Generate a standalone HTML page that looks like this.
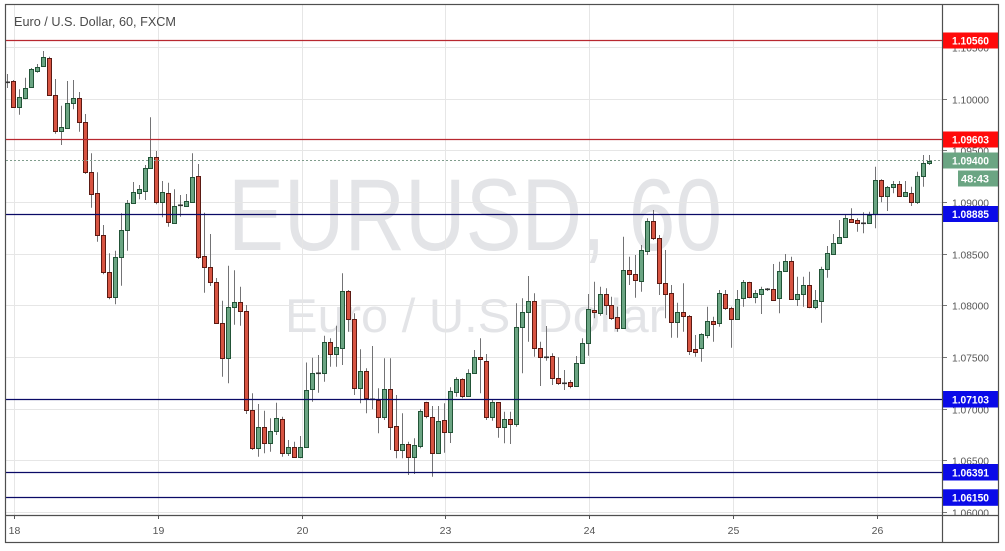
<!DOCTYPE html>
<html>
<head>
<meta charset="utf-8">
<style>
html,body{margin:0;padding:0;background:#fff;}
svg{display:block;}
text{font-family:"Liberation Sans",Arial,sans-serif;}
</style>
</head>
<body>
<svg id="c" width="1005" height="551" viewBox="0 0 1005 551" xmlns="http://www.w3.org/2000/svg">
<defs>
<clipPath id="ax"><rect x="943" y="5" width="55" height="510"/></clipPath>
</defs>
<rect x="0" y="0" width="1005" height="551" fill="#fff"/>
<!-- watermark -->
<text x="228" y="250" font-size="102" fill="#e3e4e7" textLength="494" lengthAdjust="spacingAndGlyphs">EURUSD, 60</text>
<text x="285" y="332" font-size="47" fill="#e3e4e7" textLength="380" lengthAdjust="spacingAndGlyphs">Euro / U.S. Dollar</text>
<!-- grid -->
<g stroke="#e6e6e6" stroke-width="1">
<line x1="6" y1="47.5" x2="942" y2="47.5"/>
<line x1="6" y1="99.5" x2="942" y2="99.5"/>
<line x1="6" y1="150.5" x2="942" y2="150.5"/>
<line x1="6" y1="202.5" x2="942" y2="202.5"/>
<line x1="6" y1="254.5" x2="942" y2="254.5"/>
<line x1="6" y1="305.5" x2="942" y2="305.5"/>
<line x1="6" y1="357.5" x2="942" y2="357.5"/>
<line x1="6" y1="409.5" x2="942" y2="409.5"/>
<line x1="6" y1="460.5" x2="942" y2="460.5"/>
<line x1="6" y1="512.5" x2="942" y2="512.5"/>
<line x1="14.5" y1="5" x2="14.5" y2="515"/>
<line x1="158.5" y1="5" x2="158.5" y2="515"/>
<line x1="302.5" y1="5" x2="302.5" y2="515"/>
<line x1="445.5" y1="5" x2="445.5" y2="515"/>
<line x1="589.5" y1="5" x2="589.5" y2="515"/>
<line x1="733.5" y1="5" x2="733.5" y2="515"/>
<line x1="877.5" y1="5" x2="877.5" y2="515"/>
</g>
<!-- title -->
<text x="14" y="26" font-size="12.5" fill="#4a4a4a" textLength="162" lengthAdjust="spacingAndGlyphs">Euro / U.S. Dollar, 60, FXCM</text>
<!-- candles -->
<g id="candles"></g>
<!-- horizontal levels -->
<line x1="6" y1="40.5" x2="942" y2="40.5" stroke="#b82830" stroke-width="1.3"/>
<line x1="6" y1="139.5" x2="942" y2="139.5" stroke="#b82830" stroke-width="1.3"/>
<line x1="6" y1="160.5" x2="942" y2="160.5" stroke="#7f9c8c" stroke-width="1" stroke-dasharray="2 2"/>
<line x1="6" y1="214.5" x2="942" y2="214.5" stroke="#0a0a66" stroke-width="1.3"/>
<line x1="6" y1="399.5" x2="942" y2="399.5" stroke="#0a0a66" stroke-width="1.3"/>
<line x1="6" y1="472.5" x2="942" y2="472.5" stroke="#0a0a66" stroke-width="1.3"/>
<line x1="6" y1="497.5" x2="942" y2="497.5" stroke="#0a0a66" stroke-width="1.3"/>
<!-- price axis labels -->
<g clip-path="url(#ax)">
<g stroke="#777" stroke-width="1">
<line x1="942" y1="47.5" x2="947" y2="47.5"/>
<line x1="942" y1="99.5" x2="947" y2="99.5"/>
<line x1="942" y1="150.5" x2="947" y2="150.5"/>
<line x1="942" y1="202.5" x2="947" y2="202.5"/>
<line x1="942" y1="254.5" x2="947" y2="254.5"/>
<line x1="942" y1="305.5" x2="947" y2="305.5"/>
<line x1="942" y1="357.5" x2="947" y2="357.5"/>
<line x1="942" y1="409.5" x2="947" y2="409.5"/>
<line x1="942" y1="460.5" x2="947" y2="460.5"/>
<line x1="942" y1="512.5" x2="947" y2="512.5"/>
</g>
<g font-size="10.5" fill="#555">
<text x="952" y="51.3" textLength="37" lengthAdjust="spacingAndGlyphs">1.10500</text>
<text x="952" y="103.3" textLength="37" lengthAdjust="spacingAndGlyphs">1.10000</text>
<text x="952" y="154.3" textLength="37" lengthAdjust="spacingAndGlyphs">1.09500</text>
<text x="952" y="206.3" textLength="37" lengthAdjust="spacingAndGlyphs">1.09000</text>
<text x="952" y="258.3" textLength="37" lengthAdjust="spacingAndGlyphs">1.08500</text>
<text x="952" y="309.3" textLength="37" lengthAdjust="spacingAndGlyphs">1.08000</text>
<text x="952" y="361.3" textLength="37" lengthAdjust="spacingAndGlyphs">1.07500</text>
<text x="952" y="413.3" textLength="37" lengthAdjust="spacingAndGlyphs">1.07000</text>
<text x="952" y="464.3" textLength="37" lengthAdjust="spacingAndGlyphs">1.06500</text>
<text x="952" y="516.3" textLength="37" lengthAdjust="spacingAndGlyphs">1.06000</text>
</g>
</g>
<!-- colored labels -->
<rect x="942" y="32.5" width="56" height="16" fill="#ff0a0a"/>
<rect x="942" y="131.5" width="56" height="16" fill="#ff0a0a"/>
<rect x="942" y="152.5" width="56" height="16" fill="#6ba583"/>
<rect x="958" y="170.5" width="40" height="16" fill="#6ba583"/>
<rect x="942" y="206" width="56" height="16" fill="#0a0ae8"/>
<rect x="942" y="391" width="56" height="16.5" fill="#0a0ae8"/>
<rect x="942" y="464" width="56" height="16.5" fill="#0a0ae8"/>
<rect x="942" y="489.3" width="56" height="16.5" fill="#0a0ae8"/>
<g font-size="11" font-weight="bold" fill="#fff">
<text x="952" y="44.5" textLength="37" lengthAdjust="spacingAndGlyphs">1.10560</text>
<text x="952" y="143.5" textLength="37" lengthAdjust="spacingAndGlyphs">1.09603</text>
<text x="952" y="164.5" textLength="37" lengthAdjust="spacingAndGlyphs">1.09400</text>
<text x="961" y="182.5" textLength="28" lengthAdjust="spacingAndGlyphs">48:43</text>
<text x="952" y="218" textLength="37" lengthAdjust="spacingAndGlyphs">1.08885</text>
<text x="952" y="403.3" textLength="37" lengthAdjust="spacingAndGlyphs">1.07103</text>
<text x="952" y="476.3" textLength="37" lengthAdjust="spacingAndGlyphs">1.06391</text>
<text x="952" y="501.6" textLength="37" lengthAdjust="spacingAndGlyphs">1.06150</text>
</g>
<!-- time axis -->
<g stroke="#555" stroke-width="1">
<line x1="14.5" y1="515" x2="14.5" y2="519"/>
<line x1="158.5" y1="515" x2="158.5" y2="519"/>
<line x1="302.5" y1="515" x2="302.5" y2="519"/>
<line x1="445.5" y1="515" x2="445.5" y2="519"/>
<line x1="589.5" y1="515" x2="589.5" y2="519"/>
<line x1="733.5" y1="515" x2="733.5" y2="519"/>
<line x1="877.5" y1="515" x2="877.5" y2="519"/>
</g>
<g font-size="10.5" fill="#555" text-anchor="middle">
<text x="14.5" y="534">18</text>
<text x="158.5" y="534">19</text>
<text x="302.5" y="534">20</text>
<text x="445.5" y="534">23</text>
<text x="589.5" y="534">24</text>
<text x="733.5" y="534">25</text>
<text x="877.5" y="534">26</text>
</g>
<!-- borders -->
<g stroke="#4f4f4f" stroke-width="1.2" fill="none">
<rect x="5.5" y="4.5" width="993" height="538"/>
<line x1="5.5" y1="515.5" x2="998.5" y2="515.5"/>
<line x1="942.5" y1="4.5" x2="942.5" y2="542.5"/>
</g>
</svg>
<script>
(function(){
var D=[
[0,81.7,81.7,74,88],
[-1,81,106.7,80,107.7],
[1,97.3,106.7,89.3,114.7],
[1,88.3,98.3,77.7,99.3],
[1,69.3,87.3,68,88],
[1,67.3,70.7,64,72.7],
[1,57.3,66.3,51,67],
[-1,58.3,95.3,56.7,96],
[-1,95.3,131.3,79,133.7],
[1,127.3,131.3,105.7,145],
[1,103.3,127.7,81,128],
[1,98.3,103.3,80,109.3],
[-1,98.3,122.3,92,131.7],
[-1,122.3,171.7,114,174],
[-1,171.7,194.3,153.3,207.7],
[-1,193.3,235.3,172.3,241.7],
[-1,235.3,271.7,225,274.3],
[-1,272.3,296.7,253.3,299.3],
[1,256.7,296.7,250.7,304.3],
[1,230,256.7,213.3,285.7],
[1,203.3,230,200,250.7],
[1,192.3,203.3,182,204],
[1,189.3,192.7,185,199.3],
[1,168.3,190.7,165,200],
[1,156.7,168.3,117.3,169],
[-1,156.7,201.7,151,204.3],
[1,192.3,201.7,181,217.3],
[-1,193.3,222.3,182.7,226.7],
[1,205.7,222.7,189.3,223.3],
[0,205,205,195,216.7],
[1,201,206.3,194,207],
[1,177.3,201.7,153.3,203],
[-1,176.3,256.7,164,259],
[-1,256,267.3,212.7,292.7],
[-1,267.3,281.7,234,286],
[-1,281.7,323.3,278,324],
[-1,323.3,358.3,300.7,376.7],
[1,307.3,358.3,265.7,383.3],
[1,302.3,307.3,270.3,324.7],
[-1,301.7,310.7,286.7,325.7],
[-1,311,410,305,414],
[-1,410,448.3,393.3,450],
[1,426.7,448.3,404,456.7],
[-1,426.7,443.3,410.7,453.3],
[1,430.7,443.3,418.3,451.7],
[1,418.3,430.7,402.7,435],
[-1,419.3,453.3,416.7,456.7],
[1,447.3,453.3,440,456],
[-1,446.7,456.7,441.7,457.3],
[1,446.7,456.7,436,458.3],
[1,390,447.3,362.5,448],
[1,373.3,389.3,357.7,401.7],
[0,372.7,372.7,355,392.7],
[1,342.3,373.3,335.7,381.7],
[-1,342.3,354.3,338.3,366.7],
[1,347.3,354.3,325.7,366.7],
[1,291,348.3,273.3,365],
[-1,291,319.3,290,331.7],
[-1,319.3,388.3,313.3,395],
[1,371,388.3,349.3,403.3],
[-1,371,398.3,368.3,413.3],
[0,399,399,346,409.3],
[-1,400,416.7,388.3,433.3],
[1,389,416.7,358.3,420],
[-1,389,426.7,358.3,450],
[-1,426,450.3,395,458.3],
[1,444,450.3,413.3,458.3],
[-1,444,457.3,441.7,475],
[1,445.3,456.7,438.3,474],
[1,411.3,446,409.3,448.3],
[-1,402.3,415.7,401.7,418.3],
[-1,416.7,452.7,406,476.7],
[1,421.3,452.7,406,452.7],
[-1,420,431.7,403.3,452.7],
[1,391,432.3,387.3,443],
[1,379,391.7,377.3,396.7],
[-1,379.3,395.7,378.3,398.3],
[1,373.3,395.7,369.3,396],
[1,357.3,372.7,350,374],
[-1,357.3,359.3,338.3,393.3],
[-1,360.7,417.3,354,420],
[1,402.3,417.3,400,420.7],
[-1,402,426.7,402,437.7],
[1,418.7,426.7,411.7,443.3],
[-1,418.7,424,411.7,444],
[1,327.3,424.3,303.3,426.7],
[1,312.3,327.3,298.3,373.3],
[1,301,312.3,276,341.7],
[-1,301,347.7,293.3,356.7],
[-1,347.7,357.3,341.7,386],
[0,356.7,356.7,326,360.7],
[-1,356,377.7,353.3,385],
[-1,378.3,383.3,357.3,385],
[0,382.7,382.7,370,390],
[-1,382.3,385.7,380,388.3],
[1,363.3,385.7,356,386],
[1,343.3,362.7,338.3,364],
[1,309.3,343.3,294,355.7],
[-1,310,312.3,281.7,318.3],
[1,294.3,313.3,286.7,315.7],
[-1,294.3,305,288.3,315],
[-1,305,317.7,296.7,320],
[-1,317.3,327.7,306.7,331.7],
[1,270,327.7,236.7,329],
[-1,270,274.3,256.7,285],
[-1,274.3,280,255,297.7],
[1,250,280.7,245,291.7],
[1,221,250.7,218.3,255],
[-1,221,238.3,210,240],
[-1,238.3,282.7,235,295],
[-1,283.3,294.3,250,318.3],
[-1,293.3,321.7,285,337.7],
[1,311.7,322.3,302.7,337.7],
[-1,311.7,315.7,283.3,331.7],
[-1,315.7,350.7,315,355],
[-1,349.3,351.7,335,356.7],
[1,334.3,348.3,333.3,361.7],
[1,320.7,335,306.7,338.3],
[-1,320.7,324.3,316.7,341.7],
[1,293.3,323.3,290,326.7],
[-1,294,308.3,290,310],
[-1,308.3,319,306.7,347.7],
[1,299.3,319.3,290,320],
[1,281.7,298.3,280,306.7],
[-1,281.7,296.7,281.7,298.3],
[1,293.3,296.7,290,303.3],
[1,289.3,294.3,286.7,314],
[0,289.3,289.3,288,291],
[-1,289.3,300,264,300],
[1,271,298.3,261.7,313.3],
[1,261,271,254,272],
[-1,261,299.3,256.7,300],
[1,294.3,299.3,276.7,306],
[1,285,294.3,276.7,306.7],
[-1,285,307.3,271.7,308.3],
[1,300,307.3,290,309.3],
[1,269,300.7,266.7,322.7],
[1,253.3,269.3,246,277.7],
[1,243.3,254.3,234,255],
[1,237.3,243.3,220,244],
[1,218.3,236.7,215,237],
[-1,219,221.7,208.3,222.7],
[-1,220,222.7,218.3,231.7],
[0,222.7,222.7,212.3,233.3],
[1,215,222.7,211.7,223],
[1,180,214.3,166.7,228.3],
[-1,180,195.7,179.3,202.3],
[1,187.3,195.7,186,211],
[1,184,187.3,181,193.3],
[-1,184,195.7,181,196],
[1,192.3,195.7,181,196],
[-1,193.3,201.7,186.7,206],
[1,176,201.7,171.7,204],
[1,163.3,176,155,186.7],
[1,161,163.3,155,165]
];
var g=document.getElementById('candles');
var html='';
for(var i=0;i<D.length;i++){
  var d=D[i];
  var cx=7.3+i*5.987;
  var r=Math.floor(cx);
  var wx=r+0.5;
  html+='<line x1="'+wx+'" y1="'+d[3]+'" x2="'+wx+'" y2="'+d[4]+'" stroke="#737375" stroke-width="1"/>';
  if(d[0]===0){
    var y=Math.round(d[1]);
    html+='<rect x="'+(r-2)+'" y="'+(y-0.5)+'" width="5" height="1.6" fill="#333"/>';
  } else {
    var t=Math.round(d[1]), b=Math.round(d[2]);
    var h=Math.max(b-t,1);
    var fill=d[0]>0?'#6ba583':'#d75442';
    var st=d[0]>0?'#225437':'#5b1a13';
    html+='<rect x="'+(r-1.5)+'" y="'+(t+0.5)+'" width="4" height="'+h+'" fill="'+fill+'" stroke="'+st+'" stroke-width="1"/>';
  }
}
g.innerHTML=html;
})();
</script>
</body>
</html>
